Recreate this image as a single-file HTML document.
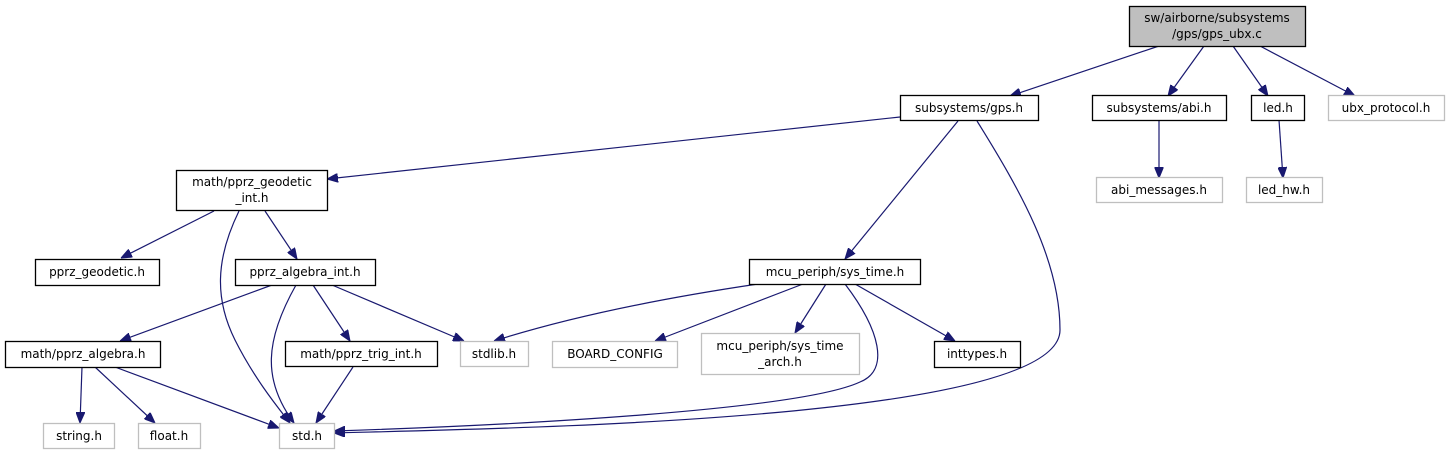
<!DOCTYPE html>
<html><head><meta charset="utf-8"><style>
html,body{margin:0;padding:0;background:#fff;}
svg{display:block;}
text{font-family:"DejaVu Sans","Liberation Sans",sans-serif;font-size:12px;fill:#000;text-anchor:middle;}
.n{fill:#fff;stroke:#000;stroke-width:1.3;}
.g{fill:#fff;stroke:#bfbfbf;stroke-width:1.3;}
.e{fill:none;stroke:#191970;stroke-width:1.2;marker-end:url(#a);}
</style></head><body>
<svg width="1450" height="455" viewBox="0 0 1450 455">
<defs><marker id="a" markerWidth="11" markerHeight="9" refX="11" refY="4.5" orient="auto" markerUnits="userSpaceOnUse"><path d="M0,0 L11,4.5 L0,9 Z" fill="#191970" stroke="#191970"/></marker></defs>
<path class="e" d="M1159,46 L1010,96"/>
<path class="e" d="M1204,46 L1168,96"/>
<path class="e" d="M1233,46 L1268,96"/>
<path class="e" d="M1260,46 L1355,96"/>
<path class="e" d="M1159,120 L1159,178"/>
<path class="e" d="M1279,120 L1283,178"/>
<path class="e" d="M900,117 L327,179"/>
<path class="e" d="M958,121 L845,259"/>
<path class="e" d="M977,121 C1020,190 1060,260 1060,330 C1060,420 520,428 334,433"/>
<path class="e" d="M214,211 L121,258"/>
<path class="e" d="M265,211 L297,259"/>
<path class="e" d="M239,211 C215,260 215,300 235,340 C255,380 280,410 290,423"/>
<path class="e" d="M272,285 L120,341"/>
<path class="e" d="M296,285 C265,340 262,380 294,423"/>
<path class="e" d="M313,285 L350,341"/>
<path class="e" d="M332,285 L464,341"/>
<path class="e" d="M82,367 L80,423"/>
<path class="e" d="M95,367 L155,423"/>
<path class="e" d="M115,367 L279,428"/>
<path class="e" d="M353,367 L316,423"/>
<path class="e" d="M758,284 C650,300 560,320 494,341"/>
<path class="e" d="M803,284 L655,341"/>
<path class="e" d="M826,284 L795,333"/>
<path class="e" d="M855,284 L955,341"/>
<path class="e" d="M845,284 C880,330 890,370 860,382 C800,410 520,425 334,431"/>
<rect x="1129.5" y="6.5" width="176" height="40" fill="#bfbfbf" stroke="#000" stroke-width="1.3"/>
<text x="1217" y="22">sw/airborne/subsystems</text><text x="1217" y="38">/gps/gps_ubx.c</text>
<rect class="n" x="900.5" y="95.5" width="138" height="25"/><text x="969" y="112">subsystems/gps.h</text>
<rect class="n" x="1092.5" y="95.5" width="134" height="25"/><text x="1159" y="112">subsystems/abi.h</text>
<rect class="n" x="1251.5" y="95.5" width="53" height="25"/><text x="1278" y="112">led.h</text>
<rect class="g" x="1328.5" y="95.5" width="116" height="25"/><text x="1386" y="112">ubx_protocol.h</text>
<rect class="g" x="1096.5" y="177.5" width="126" height="25"/><text x="1159" y="194">abi_messages.h</text>
<rect class="g" x="1246.5" y="177.5" width="76" height="25"/><text x="1284" y="194">led_hw.h</text>
<rect class="n" x="176.5" y="170.5" width="151" height="40"/><text x="252" y="186">math/pprz_geodetic</text><text x="252" y="202">_int.h</text>
<rect class="n" x="35.5" y="259.5" width="124" height="26"/><text x="97" y="276">pprz_geodetic.h</text>
<rect class="n" x="235.5" y="259.5" width="140" height="26"/><text x="305" y="276">pprz_algebra_int.h</text>
<rect class="n" x="749.5" y="259.5" width="171" height="25"/><text x="835" y="276">mcu_periph/sys_time.h</text>
<rect class="n" x="5.5" y="341.5" width="155" height="26"/><text x="83" y="358">math/pprz_algebra.h</text>
<rect class="n" x="285.5" y="341.5" width="152" height="25"/><text x="361" y="358">math/pprz_trig_int.h</text>
<rect class="g" x="460.5" y="341.5" width="68" height="25"/><text x="494" y="358">stdlib.h</text>
<rect class="g" x="552.5" y="341.5" width="125" height="26"/><text x="615" y="358">BOARD_CONFIG</text>
<rect class="g" x="701.5" y="333.5" width="158" height="41"/><text x="780" y="350">mcu_periph/sys_time</text><text x="780" y="366">_arch.h</text>
<rect class="n" x="934.5" y="341.5" width="86" height="26"/><text x="977" y="358">inttypes.h</text>
<rect class="g" x="43.5" y="423.5" width="71" height="25"/><text x="79" y="440">string.h</text>
<rect class="g" x="138.5" y="423.5" width="62" height="25"/><text x="169" y="440">float.h</text>
<rect class="g" x="279.5" y="423.5" width="55" height="25"/><text x="307" y="440">std.h</text>
</svg>
</body></html>
